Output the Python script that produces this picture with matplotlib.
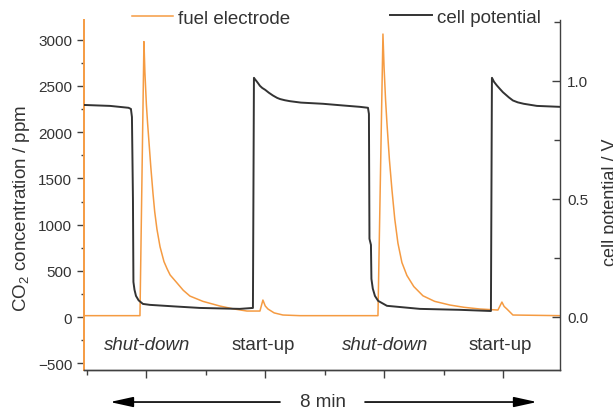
import matplotlib
matplotlib.use("Agg")
import matplotlib.pyplot as plt
from matplotlib.ticker import MultipleLocator

plt.rcParams['font.family'] = ['Liberation Sans', 'DejaVu Sans']
plt.rcParams['mathtext.fontset'] = 'custom'
plt.rcParams['mathtext.rm'] = 'Liberation Sans'

# time in minutes
cell_t = [-0.05, 0.39, 0.70, 0.74, 0.757, 0.774, 0.782, 0.80, 0.825, 0.87, 0.942, 1.06,
          1.50, 1.90, 2.57, 2.793,
          2.81, 2.83, 2.85, 2.88, 2.911, 2.95, 3.0, 3.06, 3.13, 3.20, 3.25, 3.33, 3.416, 3.60,
          3.971, 4.30, 4.594, 4.729, 4.745, 4.754, 4.779, 4.787, 4.81, 4.846, 4.90, 5.048,
          5.603, 6.276, 6.798,
          6.815, 6.83, 6.85, 6.90, 6.949, 7.0, 7.05, 7.10, 7.168, 7.25, 7.35, 7.572, 7.96]
cell_v = [0.898, 0.894, 0.886, 0.881, 0.847, 0.500, 0.148, 0.115, 0.089, 0.070, 0.055, 0.051,
          0.044, 0.038, 0.034, 0.038,
          1.013, 1.006, 1.000, 0.990, 0.979, 0.970, 0.962, 0.950, 0.938, 0.928, 0.923, 0.918, 0.914, 0.908,
          0.903, 0.896, 0.890, 0.886, 0.860, 0.331, 0.305, 0.161, 0.120, 0.089, 0.068, 0.047,
          0.034, 0.030, 0.025,
          1.013, 1.006, 0.996, 0.980, 0.966, 0.952, 0.941, 0.930, 0.917, 0.909, 0.903, 0.894, 0.890]

fuel_t = [-0.05, 0.892, 0.959, 0.975, 1.0, 1.02, 1.043, 1.075, 1.111, 1.14, 1.178, 1.23,
          1.296, 1.35, 1.40, 1.514, 1.62, 1.733, 1.95, 2.238, 2.45, 2.692,
          2.911, 2.961, 3.00, 3.046, 3.15, 3.298, 3.584,
          4.897, 4.981, 5.0, 5.025, 5.048, 5.09, 5.132, 5.18, 5.233, 5.30, 5.384, 5.50,
          5.654, 5.85, 6.108, 6.35, 6.613, 6.916, 6.983, 7.02, 7.067, 7.168, 7.96]
fuel_co2 = [15, 15, 2980, 2650, 2300, 2100, 1900, 1620, 1340, 1140, 950, 760,
            600, 520, 455, 370, 290, 227, 170, 119, 90, 65,
            65, 184, 120, 87, 45, 22, 15,
            15, 3062, 2700, 2350, 2100, 1700, 1380, 1060, 800, 590, 450, 330,
            230, 170, 130, 105, 87, 76, 162, 115, 87, 22, 15]

event_labels = ["shut-down", "start-up", "shut-down", "start-up"]
event_t = [1.01, 2.97, 5.01, 6.96]

orange = '#f59b42'
dark = '#333333'

fig = plt.figure(figsize=(6.13, 4.1), dpi=100)
ax = fig.add_axes([0.1370, 0.0951, 0.7765, 0.8537])
ax2 = ax.twinx()

l1, = ax.plot(fuel_t, fuel_co2, color=orange, lw=1.1)
l2, = ax2.plot(cell_t, cell_v, color=dark, lw=1.4)

ax.set_xlim(-0.05, 7.96)
ax.set_ylim(-573, 3214)
ax2.set_ylim(-0.225, 1.258)

ax.set_xticks([1, 3, 5, 7])
ax.set_xticks([0, 2, 4, 6], minor=True)
ax.set_xticklabels([])
ax.yaxis.set_major_locator(MultipleLocator(500))
ax.yaxis.set_minor_locator(MultipleLocator(250))
ax2.yaxis.set_major_locator(MultipleLocator(0.5))
ax2.yaxis.set_minor_locator(MultipleLocator(0.25))

for a in (ax, ax2):
    a.spines['top'].set_visible(False)
    for s in a.spines.values():
        s.set_color('#404040')
        s.set_linewidth(1.0)
ax.spines['left'].set_color(orange)
ax.spines['left'].set_linewidth(1.4)
ax.spines['right'].set_visible(False)
ax2.spines['left'].set_visible(False)

ax.tick_params(axis='x', which='major', length=5.5, width=1.0, color='#404040')
ax.tick_params(axis='x', which='minor', length=3.5, width=1.0, color='#404040')
ax.tick_params(axis='y', which='major', length=5, width=1.0, color='#404040',
               labelsize=11, labelcolor=dark, pad=3.5)
ax.tick_params(axis='y', which='minor', length=2.5, width=1.0, color='#404040')
ax2.tick_params(axis='y', which='major', direction='in', length=5.5, width=1.0,
                color='#404040', labelsize=11, labelcolor=dark, pad=5)
ax2.tick_params(axis='y', which='minor', direction='in', length=4, width=1.0,
                color='#404040')

ax.set_ylabel('CO$_\\mathregular{2}$ concentration / ppm', fontsize=13.5, color=dark)
ax.yaxis.set_label_coords(-0.11, 0.463)
ax2.set_ylabel('cell potential / V', fontsize=13, color=dark)
ax2.yaxis.set_label_coords(1.088, 0.483)

for lab, t in zip(event_labels, event_t):
    ax.text(t, -346, lab, ha='center', va='baseline', fontsize=13.5, color=dark,
            style='italic' if lab == 'shut-down' else 'normal')

leg1 = fig.legend(handles=[l1], labels=['fuel electrode'], loc='center left',
                  bbox_to_anchor=(132 / 613, 0.9537), frameon=False, fontsize=13.5,
                  borderpad=0, borderaxespad=0, handlelength=2.2, handletextpad=0.27)
for t in leg1.get_texts():
    t.set_color(dark)
leg2 = fig.legend(handles=[l2], labels=['cell potential'], loc='center left',
                  bbox_to_anchor=(390 / 613, 0.956), frameon=False, fontsize=13.5,
                  borderpad=0, borderaxespad=0, handlelength=2.24, handletextpad=0.27)
for t in leg2.get_texts():
    t.set_color(dark)

arrow = dict(arrowstyle='-|>,head_length=1.0,head_width=0.22', mutation_scale=14,
             color='black', lw=1.2, shrinkA=0, shrinkB=0)
ax.annotate('', xy=(110 / 613, 0.017), xytext=(280 / 613, 0.017),
            xycoords='figure fraction', textcoords='figure fraction', arrowprops=arrow)
ax.annotate('', xy=(537 / 613, 0.017), xytext=(365 / 613, 0.017),
            xycoords='figure fraction', textcoords='figure fraction', arrowprops=arrow)
fig.text(323.5 / 613, 0.007, '8 min', ha='center', va='baseline', fontsize=13.5, color=dark)

fig.savefig('out.png', dpi=100)
